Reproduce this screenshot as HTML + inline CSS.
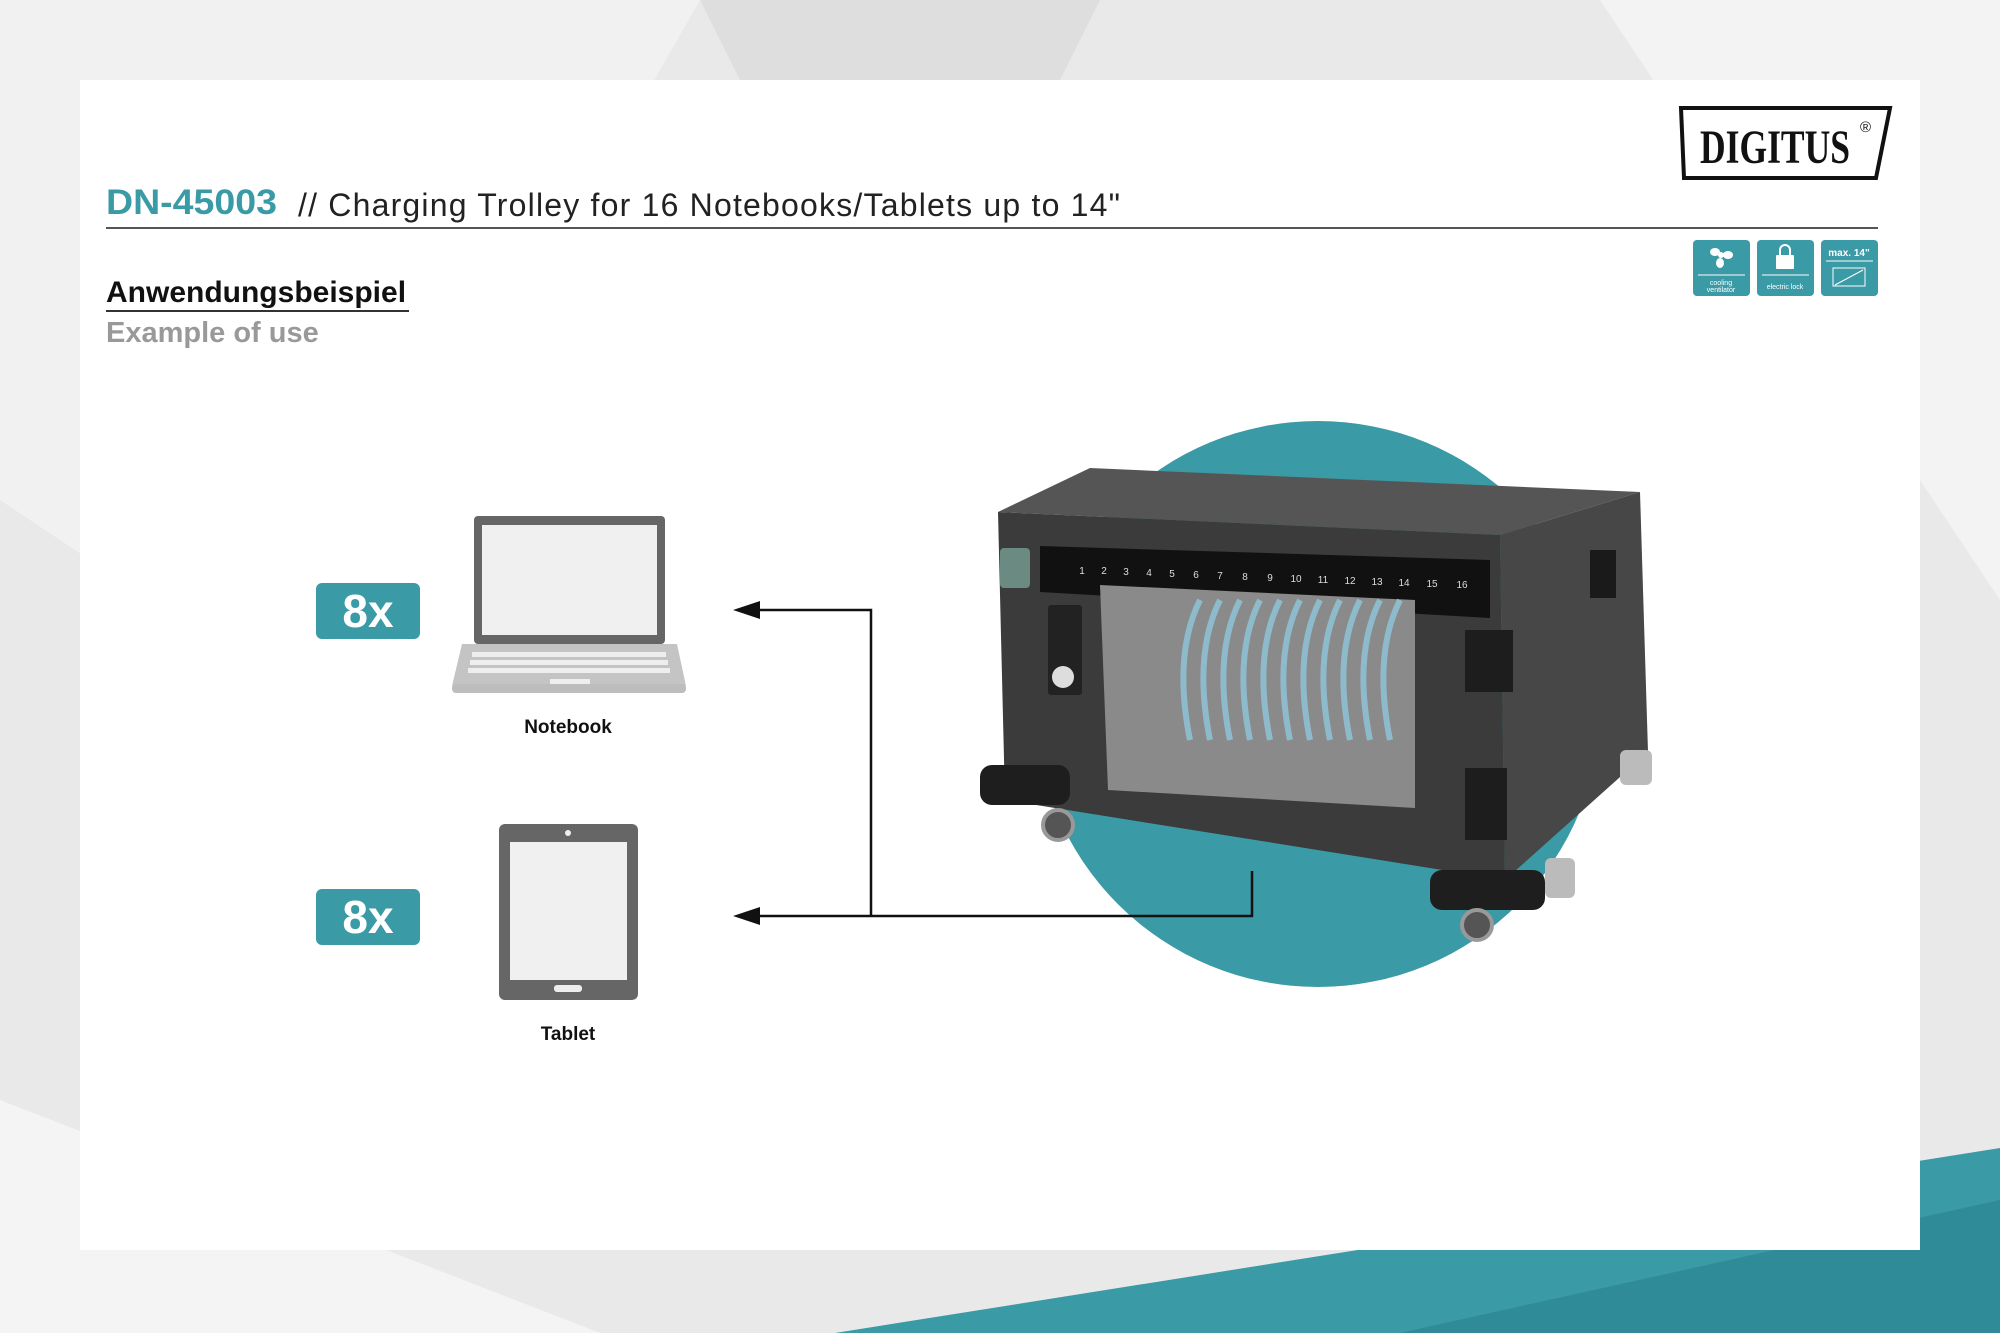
<!DOCTYPE html>
<html><head><meta charset="utf-8"><style>
html,body{margin:0;padding:0;width:2000px;height:1333px;overflow:hidden;background:#ececec}
svg{display:block}
text{font-family:"Liberation Sans",sans-serif}
</style></head><body>
<svg width="2000" height="1333" viewBox="0 0 2000 1333" xmlns="http://www.w3.org/2000/svg">
<rect width="2000" height="1333" fill="#e9e9e9"/>
<polygon points="0,0 700,0 300,700 0,500" fill="#f1f1f1"/>
<polygon points="700,0 1100,0 900,400" fill="#dedede"/>
<polygon points="1600,0 2000,0 2000,600" fill="#f3f3f3"/>
<polygon points="0,1100 600,1333 0,1333" fill="#f4f4f4"/>
<polygon points="835,1333 2000,1148 2000,1333" fill="#3a9aa6"/>
<polygon points="1400,1333 2000,1200 2000,1333" fill="#2f8b97"/>
<rect x="80" y="80" width="1840" height="1170" fill="#ffffff"/>
<text x="106" y="214" font-size="35" font-weight="bold" fill="#3a9aa6" textLength="171" lengthAdjust="spacingAndGlyphs">DN-45003</text>
<text x="298" y="216" font-size="32" fill="#222" textLength="822" lengthAdjust="spacing">//  Charging Trolley for 16 Notebooks/Tablets up to 14"</text>
<line x1="106" y1="228" x2="1878" y2="228" stroke="#555" stroke-width="2"/>
<polygon points="1681,108 1890,108 1876,178 1684,178" fill="#fff" stroke="#111" stroke-width="4"/>
<text x="1700" y="163" font-size="48" font-weight="bold" fill="#111" textLength="150" lengthAdjust="spacingAndGlyphs" style="font-family:'Liberation Serif',serif">DIGITUS</text>
<text x="1860" y="132" font-size="15" fill="#111">®</text>
<g fill="#3a9aa6">
<rect x="1693" y="240" width="57" height="56" rx="4"/>
<rect x="1757" y="240" width="57" height="56" rx="4"/>
<rect x="1821" y="240" width="57" height="56" rx="4"/>
</g>
<g fill="#fff" stroke="none">
<circle cx="1721" cy="255" r="3"/>
<ellipse cx="1715" cy="252" rx="5" ry="4"/><ellipse cx="1728" cy="255" rx="5" ry="4"/><ellipse cx="1720" cy="263" rx="4" ry="5"/>
<rect x="1776" y="255" width="18" height="14" rx="1"/>
<text x="1721" y="285" font-size="7" text-anchor="middle">cooling</text>
<text x="1721" y="292" font-size="7" text-anchor="middle">ventilator</text>
<text x="1785" y="289" font-size="7" text-anchor="middle">electric lock</text>
<text x="1849" y="256" font-size="10" text-anchor="middle" font-weight="bold">max. 14"</text>
</g>
<path d="M1780,255 v-5 a5,5 0 0 1 10,0 v5" fill="none" stroke="#fff" stroke-width="2"/>
<g stroke="#fff" stroke-width="1" fill="none"><line x1="1698" y1="275" x2="1745" y2="275"/><line x1="1762" y1="275" x2="1809" y2="275"/><line x1="1826" y1="261" x2="1873" y2="261"/><rect x="1833" y="268" width="32" height="18"/><line x1="1835" y1="285" x2="1863" y2="270"/></g>
<text x="106" y="302" font-size="30" font-weight="bold" fill="#111">Anwendungsbeispiel</text>
<line x1="106" y1="311" x2="409" y2="311" stroke="#333" stroke-width="2"/>
<text x="106" y="342" font-size="29" font-weight="bold" fill="#999">Example of use</text>
<circle cx="1318" cy="704" r="283" fill="#3a9aa6"/>
<!-- trolley -->
<polygon points="998,512 1090,468 1640,492 1500,535" fill="#555"/>
<polygon points="1500,535 1640,492 1648,752 1505,880" fill="#474747"/>
<polygon points="998,512 1500,535 1505,880 1005,800" fill="#3b3b3b"/>
<polygon points="1040,546 1490,560 1490,618 1040,592" fill="#111"/>
<g font-size="10" fill="#ddd" text-anchor="middle">
<text x="1082" y="574">1</text><text x="1104" y="574">2</text><text x="1126" y="575">3</text><text x="1149" y="576">4</text><text x="1172" y="577">5</text><text x="1196" y="578">6</text><text x="1220" y="579">7</text><text x="1245" y="580">8</text><text x="1270" y="581">9</text><text x="1296" y="582">10</text><text x="1323" y="583">11</text><text x="1350" y="584">12</text><text x="1377" y="585">13</text><text x="1404" y="586">14</text><text x="1432" y="587">15</text><text x="1462" y="588">16</text>
</g>
<polygon points="1100,585 1415,600 1415,808 1108,790" fill="#8a8a8a"/>
<g stroke="#8fc4d8" stroke-width="6" fill="none" opacity=".85">
<path d="M1200,600 c-20,40 -20,90 -10,140"/><path d="M1220,600 c-20,40 -20,90 -10,140"/><path d="M1240,600 c-20,40 -20,90 -10,140"/><path d="M1260,600 c-20,40 -20,90 -10,140"/><path d="M1280,600 c-20,40 -20,90 -10,140"/><path d="M1300,600 c-20,40 -20,90 -10,140"/><path d="M1320,600 c-20,40 -20,90 -10,140"/><path d="M1340,600 c-20,40 -20,90 -10,140"/><path d="M1360,600 c-20,40 -20,90 -10,140"/><path d="M1380,600 c-20,40 -20,90 -10,140"/><path d="M1400,600 c-20,40 -20,90 -10,140"/>
</g>
<rect x="1048" y="605" width="34" height="90" rx="3" fill="#222"/>
<circle cx="1063" cy="677" r="11" fill="#ddd"/>
<rect x="1000" y="548" width="30" height="40" rx="4" fill="#6b8a82"/>
<rect x="1465" y="630" width="48" height="62" fill="#1d1d1d"/>
<rect x="1465" y="768" width="42" height="72" fill="#1d1d1d"/>
<rect x="1590" y="550" width="26" height="48" fill="#1a1a1a"/>
<rect x="980" y="765" width="90" height="40" rx="12" fill="#1e1e1e"/>
<rect x="1430" y="870" width="115" height="40" rx="12" fill="#1e1e1e"/>
<rect x="1545" y="858" width="30" height="40" rx="6" fill="#bbb"/>
<rect x="1620" y="750" width="32" height="35" rx="6" fill="#bbb"/>
<circle cx="1058" cy="825" r="15" fill="#555" stroke="#999" stroke-width="4"/>
<circle cx="1477" cy="925" r="15" fill="#555" stroke="#999" stroke-width="4"/>
<g stroke="#111" stroke-width="2.5" fill="none">
<polyline points="750,610 871,610 871,916"/>
<polyline points="750,916 1252,916 1252,871"/>
</g>
<polygon points="733,610 760,601 760,619" fill="#111"/>
<polygon points="733,916 760,907 760,925" fill="#111"/>
<rect x="316" y="583" width="104" height="56" rx="6" fill="#3a9aa6"/>
<text x="368" y="627" font-size="46" font-weight="bold" fill="#fff" text-anchor="middle">8x</text>
<rect x="316" y="889" width="104" height="56" rx="6" fill="#3a9aa6"/>
<text x="368" y="933" font-size="46" font-weight="bold" fill="#fff" text-anchor="middle">8x</text>
<rect x="474" y="516" width="191" height="128" rx="4" fill="#666"/>
<rect x="482" y="525" width="175" height="110" fill="#f0f0f0"/>
<polygon points="462,644 677,644 686,686 452,686" fill="#c4c4c4"/>
<rect x="452" y="684" width="234" height="9" rx="4" fill="#bdbdbd"/>
<g fill="#eee"><rect x="472" y="652" width="194" height="5"/><rect x="470" y="660" width="198" height="5"/><rect x="468" y="668" width="202" height="5"/></g>
<rect x="550" y="679" width="40" height="5" fill="#eee"/>
<rect x="499" y="824" width="139" height="176" rx="6" fill="#666"/>
<rect x="510" y="842" width="117" height="138" fill="#f0f0f0"/>
<circle cx="568" cy="833" r="3" fill="#eee"/>
<rect x="554" y="985" width="28" height="7" rx="3" fill="#eee"/>
<text x="568" y="733" font-size="19" font-weight="bold" fill="#111" text-anchor="middle">Notebook</text>
<text x="568" y="1040" font-size="19" font-weight="bold" fill="#111" text-anchor="middle">Tablet</text>
</svg>
</body></html>
